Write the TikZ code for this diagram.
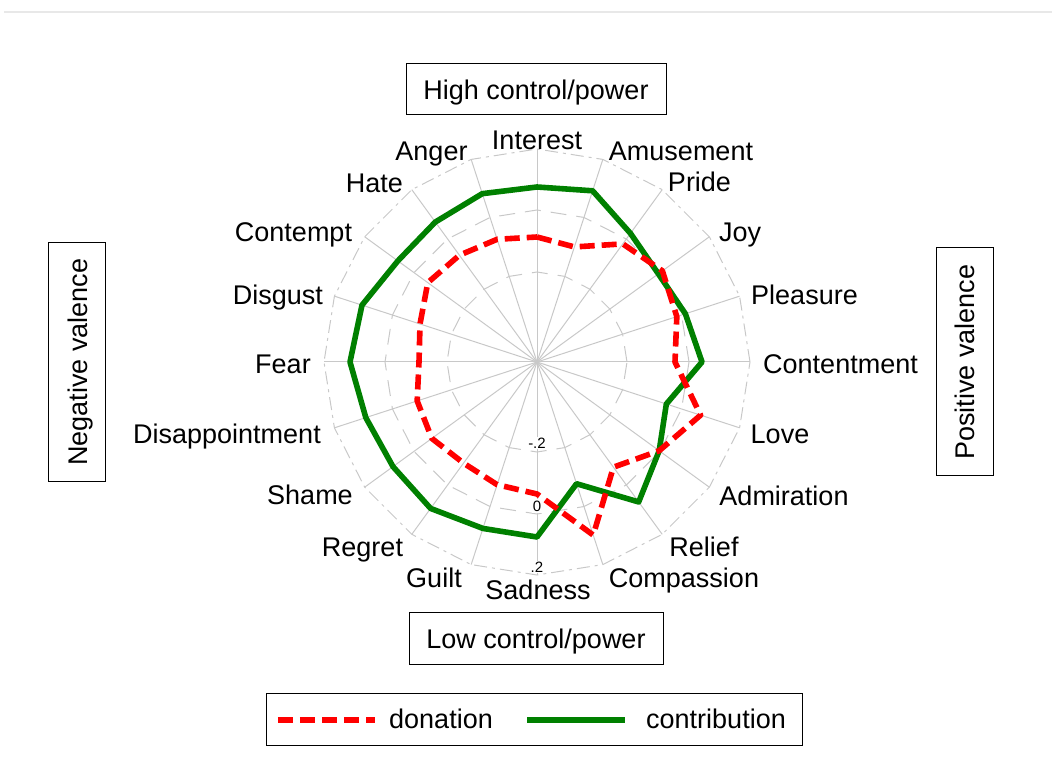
\documentclass[tikz,border=0pt]{standalone}
\usepackage{fontspec}
\setmainfont{Liberation Sans}
\definecolor{gridgray}{RGB}{200,200,200}
\definecolor{rulegray}{RGB}{232,232,232}
\definecolor{chartgreen}{RGB}{0,128,0}
\tikzset{
  emo/.style={anchor=base, inner sep=0pt, font=\fontsize{13.5}{16}\selectfont},
  axisbox/.style={draw, line width=0.5pt, inner sep=0pt, text height=12.8pt, text depth=2.8pt, font=\fontsize{13.5}{16}\selectfont},
  ticklabel/.style={fill=white, inner sep=0.6pt, font=\fontsize{7.5}{9}\selectfont}
}

\begin{document}
\begin{tikzpicture}[x=0.5pt, y=0.5pt,
    spoke/.style={gridgray, line width=0.5pt},
    ring/.style={gridgray, line width=0.5pt, dash pattern=on 8pt off 5pt},
    outerring/.style={gridgray, line width=0.5pt, dash pattern=on 6.5pt off 2.5pt on 1.5pt off 2.5pt},
    donation/.style={red, line width=2.8pt, line join=round, dash pattern=on 7.5pt off 3.5pt},
    contribution/.style={chartgreen, line width=2.8pt, line join=round}]
  \useasboundingbox (-537,-412) rectangle (515,362);
  \draw[rulegray, line width=1pt] (-533,350) -- (515,350);

  \draw[ring] (0:90) \foreach \a in {18,36,...,342} {-- (\a:90)} -- cycle;
  \draw[ring] (0:152) \foreach \a in {18,36,...,342} {-- (\a:152)} -- cycle;
  \draw[outerring] (0:213) \foreach \a in {18,36,...,342} {-- (\a:213)} -- cycle;
  \foreach \a in {0,18,...,342}
    \draw[spoke] (0,0) -- (\a:213);

  \node[ticklabel] (tickA) at (0,-81) {-.2};
  \node[ticklabel] (tickB) at (0,-144) {0};
  \node[ticklabel] (tickC) at (0,-205) {.2};

  \draw[contribution]
    plot coordinates {(90:175) (72:180) (54:159) (36:150) (18:156) (0:165) (-18:136) (-36:151) (-54:173) (-72:128)
                      (-90:175) (-108:175) (-126:181) (-144:178) (-162:180) (180:187) (162:184) (144:172) (126:173) (108:177)} -- cycle;
  \draw[donation]
    plot coordinates {(90:125) (72:121) (54:146) (36:155) (18:147) (0:138) (-18:172) (-36:151) (-54:130) (-72:182)
                      (-90:132) (-108:129) (-126:125) (-144:130) (-162:126) (180:118) (162:123) (144:135) (126:132) (108:129)} -- cycle;

  \node[emo] (interest) at (0,212) {Interest};
  \node[emo] (amusement) at (144,201) {Amusement};
  \node[emo] (pride) at (162.5,170) {Pride};
  \node[emo] (joy) at (203,120) {Joy};
  \node[emo] (pleasure) at (267.5,57) {Pleasure};
  \node[emo] (contentment) at (303.5,-12) {Contentment};
  \node[emo] (love) at (243,-82) {Love};
  \node[emo] (admiration) at (247,-144) {Admiration};
  \node[emo] (relief) at (167,-194) {Relief};
  \node[emo] (compassion) at (147,-225) {Compassion};
  \node[emo] (sadness) at (1,-237) {Sadness};
  \node[emo] (guilt) at (-103,-225) {Guilt};
  \node[emo] (regret) at (-174.5,-194) {Regret};
  \node[emo] (shame) at (-227,-143) {Shame};
  \node[emo] (disappointment) at (-310,-82) {Disappointment};
  \node[emo] (fear) at (-254,-12) {Fear};
  \node[emo] (disgust) at (-259,57) {Disgust};
  \node[emo] (contempt) at (-243.5,120) {Contempt};
  \node[emo] (hate) at (-162.5,169) {Hate};
  \node[emo] (anger) at (-105.5,201) {Anger};

  \node[axisbox, minimum width=130pt, minimum height=25.5pt] (high) at (-1,272.5) {High control/power};
  \node[axisbox, minimum width=127pt, minimum height=26pt] (low) at (-1,-276) {Low control/power};
  \node[axisbox, rotate=90, minimum width=119.5pt, minimum height=28.5pt] (negval) at (-459.5,0) {Negative valence};
  \node[axisbox, rotate=90, minimum width=114pt, minimum height=28.5pt] (posval) at (427.5,0) {Positive valence};

  \node[axisbox, minimum width=267.5pt, minimum height=26pt] (legend) at (-2.5,-357) {};
  \draw[donation, line join=miter] (-259,-358) -- (-162,-358);
  \node[emo] (donlabel) at (-96,-366) {donation};
  \draw[contribution] (-10,-358) -- (88,-358);
  \node[emo] (conlabel) at (179,-366) {contribution};
\end{tikzpicture}
\end{document}
